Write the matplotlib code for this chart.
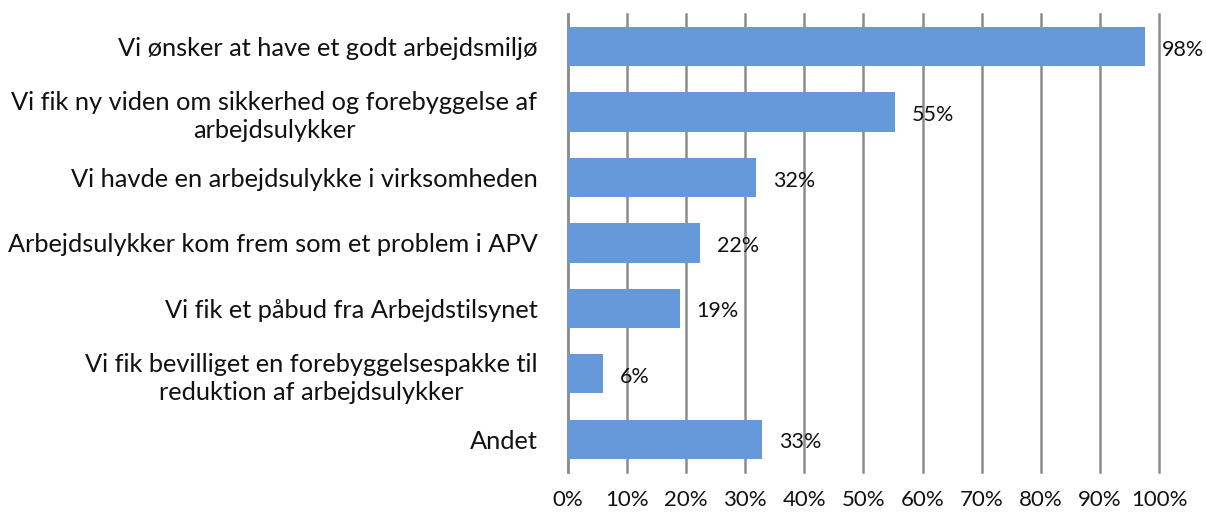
import matplotlib.pyplot as plt
from matplotlib.ticker import FuncFormatter
from matplotlib.transforms import offset_copy

categories = [
    'Vi ønsker at have et godt arbejdsmiljø',
    'Vi fik ny viden om sikkerhed og forebyggelse af\narbejdsulykker',
    'Vi havde en arbejdsulykke i virksomheden',
    'Arbejdsulykker kom frem som et problem i APV',
    'Vi fik et påbud fra Arbejdstilsynet',
    'Vi fik bevilliget en forebyggelsespakke til\nreduktion af arbejdsulykker',
    'Andet',
]
values = [0.976, 0.553, 0.318, 0.223, 0.189, 0.059, 0.329]
value_labels = ['98%', '55%', '32%', '22%', '19%', '6%', '33%']
x_ticks = [i / 10 for i in range(11)]

plt.rcParams['font.family'] = ['Lato', 'DejaVu Sans']

fig = plt.figure(figsize=(12.06, 5.18), dpi=100)
ax = fig.add_axes([0.471, 0.089, 0.490, 0.884])

ypos = list(range(len(categories)))
ax.barh(ypos, values, height=0.6, color='#6699da', zorder=3)

# value labels a bit right of bar ends
trans = offset_copy(ax.transData, fig=fig, x=17, y=-3, units='dots')
for y, v, lab in zip(ypos, values, value_labels):
    ax.text(v, y, lab, transform=trans, ha='left', va='center', fontsize=15.5, color='#111111', zorder=4)

ax.set_ylim(len(categories) - 0.5, -0.5)
ax.set_xlim(0, 1.0)
ax.set_yticks(ypos)
ax.set_yticklabels(categories, fontsize=18.3, color='#111111', multialignment='center', linespacing=1.25)
ax.set_xticks(x_ticks)
ax.xaxis.set_major_formatter(FuncFormatter(lambda x, p: f'{int(round(x * 100))}%'))
ax.tick_params(axis='x', length=0, pad=13, labelsize=16, labelcolor='#111111')
ax.tick_params(axis='y', length=0, pad=22)

ax.grid(axis='x', color='#8c8c8c', linewidth=1.8, zorder=0)
for gl in ax.get_xgridlines():
    gl.set_clip_on(False)
for s in ['top', 'right', 'bottom']:
    ax.spines[s].set_visible(False)
ax.spines['left'].set_color('#8c8c8c')
ax.spines['left'].set_linewidth(1.8)

fig.savefig('out.png', dpi=100)
